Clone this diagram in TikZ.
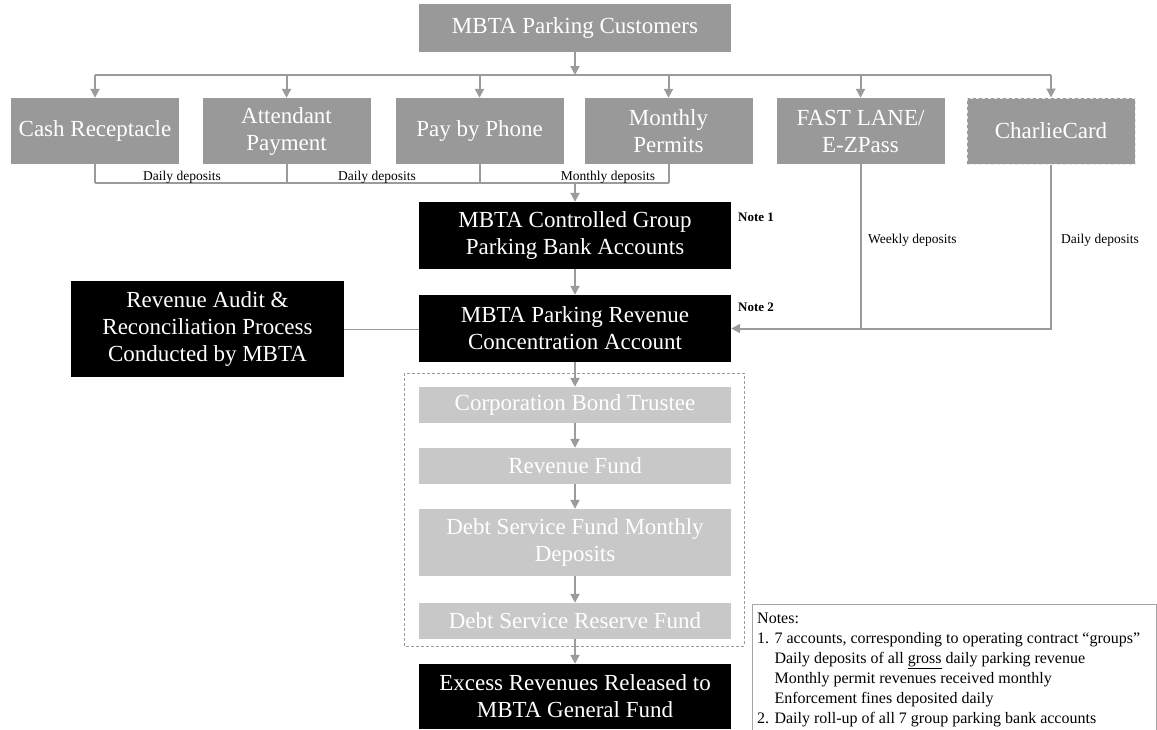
\documentclass[tikz,border=0pt]{standalone}
\usepackage{fontspec}
\setmainfont{Liberation Serif}
\usetikzlibrary{arrows.meta}
\definecolor{boxgray}{RGB}{153,153,153}
\definecolor{fundgray}{RGB}{200,200,200}
\definecolor{linegray}{RGB}{155,155,155}
\begin{document}
\begin{tikzpicture}[x=1pt,y=-1pt]
    \tikzstyle{srcbox}=[rectangle,fill=boxgray,text=white,minimum width=168pt,minimum height=66pt,inner sep=0pt,align=center,font=\fontsize{23}{27}\selectfont]
    \tikzstyle{acctbox}=[rectangle,fill=black,text=white,minimum width=312pt,minimum height=67pt,inner sep=0pt,align=center,font=\fontsize{23}{27}\selectfont]
    \tikzstyle{fundbox}=[rectangle,fill=fundgray,text=white,minimum width=312pt,minimum height=36pt,inner sep=0pt,align=center,font=\fontsize{23}{27}\selectfont]
    \tikzstyle{conn}=[draw=linegray,line width=2pt]
    \tikzstyle{arr}=[conn,-{Triangle[width=9pt,length=9pt]}]
    \tikzstyle{small}=[inner sep=0pt,font=\fontsize{13.5}{16}\selectfont]
    \useasboundingbox (0,0) rectangle (1157,729);

    % sources
    \node[srcbox,minimum width=312pt,minimum height=48pt] (cust) at (575,28) {MBTA Parking Customers};
    \foreach \name/\x/\txt in {cash/95/Cash Receptacle, att/286.5/Attendant\\Payment, phone/479.5/Pay by Phone,
                               permit/668.5/Monthly\\Permits, fast/860.5/{FAST LANE/\\E-ZPass}}
        \node[srcbox] (\name) at (\x,131) {\txt};
    \node[srcbox,draw=white!75!boxgray,dashed,line width=1pt] (charlie) at (1051,131) {CharlieCard};

    \coordinate (busL) at (95,75);
    \coordinate (busR) at (1051,75);
    \draw[conn] (busL) -- (busR);
    \draw[arr] (cust.south) -- (cust.south |- busL);
    \foreach \name in {cash,att,phone,permit,fast,charlie}
        \draw[arr] (\name.north |- busL) -- (\name.north);

    % accounts
    \node[acctbox] (ctrl) at (575,235.5) {MBTA Controlled Group\\Parking Bank Accounts};
    \node[acctbox] (conc) at (575,328.5) {MBTA Parking Revenue\\Concentration Account};
    \node[acctbox,minimum width=273pt,minimum height=96pt] (audit) at (207.5,329) {Revenue Audit \&\\Reconciliation Process\\Conducted by MBTA};

    \coordinate (colL) at (95,183);
    \foreach \name in {cash,att,phone,permit}
        \draw[conn] (\name.south) -- (\name.south |- colL);
    \draw[conn] (colL) -- (permit.south |- colL);
    \draw[arr] (ctrl.north |- colL) -- (ctrl.north);
    \foreach \num/\x/\txt in {1/182/Daily deposits, 2/377/Daily deposits, 3/608/Monthly deposits}
        \node[small,anchor=base] (dep-\num) at (\x,180) {\txt};

    \draw[arr] (ctrl) -- (conc);
    \draw[draw=linegray,line width=1pt] (audit.east) -- (audit.east -| conc.west);
    \draw[conn] (fast.south) -- (fast.south |- conc.east);
    \draw[arr] (charlie.south) |- (conc.east);

    \node[small,font=\fontsize{13}{15}\selectfont\bfseries,anchor=west] (note-1) at (738,217) {Note 1};
    \node[small,font=\fontsize{13}{15}\selectfont\bfseries,anchor=west] (note-2) at (738,307) {Note 2};
    \node[small,anchor=west] (weekly) at (868,240) {Weekly deposits};
    \node[small,anchor=west] (daily) at (1061,240) {Daily deposits};

    % trustee funds
    \draw[draw=linegray,line width=1pt,dash pattern=on 3pt off 2pt] (404,373) rectangle (744,646);
    \node[fundbox] (bond) at (575,405) {Corporation Bond Trustee};
    \node[fundbox] (revfund) at (575,466) {Revenue Fund};
    \node[fundbox,minimum height=67pt] (dsf) at (575,542.5) {Debt Service Fund Monthly\\Deposits};
    \node[fundbox] (dsr) at (575,621) {Debt Service Reserve Fund};
    \node[acctbox,minimum height=65pt] (excess) at (575,696.5) {Excess Revenues Released to\\MBTA General Fund};
    \foreach \from/\to in {conc/bond, bond/revfund, revfund/dsf, dsf/dsr, dsr/excess}
        \draw[arr] (\from) -- (\to);

    % notes
    \draw[draw=gray!70,line width=1pt] (752,740) -- (752,604) -- (1156,604) -- (1156,740);
    \node[inner sep=0pt,anchor=north west,align=left,font=\fontsize{16}{20}\selectfont] (notes) at (757,613)
        {Notes:\\
         1. 7 accounts, corresponding to operating contract “groups”\\
         \phantom{1. }Daily deposits of all \underline{gross} daily parking revenue\\
         \phantom{1. }Monthly permit revenues received monthly\\
         \phantom{1. }Enforcement fines deposited daily\\
         2. Daily roll-up of all 7 group parking bank accounts};
\end{tikzpicture}
\end{document}
